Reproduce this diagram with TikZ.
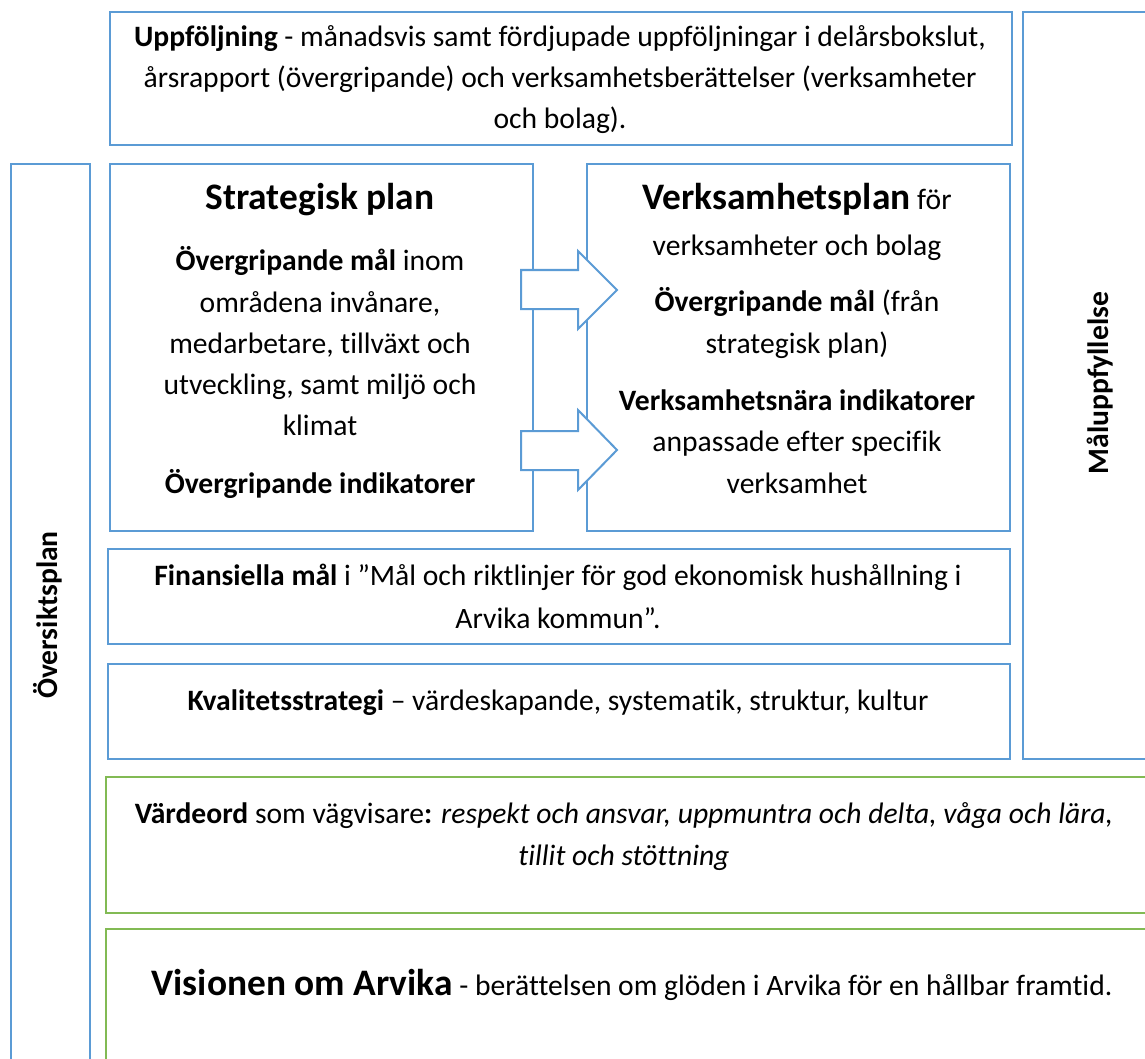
\documentclass[tikz,border=0pt]{standalone}
\usepackage{fontspec}
\setmainfont{Carlito}[Ligatures=NoCommon]
\definecolor{bl}{RGB}{91,155,213}
\definecolor{gr}{RGB}{130,186,84}
\begin{document}
\begin{tikzpicture}[x=1pt,y=-1pt,
  bbox/.style={draw=bl,line width=2pt,inner sep=0pt,anchor=north west},
  gbox/.style={draw=gr,line width=2.2pt,inner sep=0pt,anchor=north west},
  body/.style={font=\fontsize{29.6}{41}\selectfont,anchor=base,inner sep=0pt},
  side/.style={font=\fontsize{29.6}{41}\selectfont\bfseries,inner sep=0pt,rotate=90},
  blockarrow/.style={draw=bl,line width=2pt,fill=white,line join=miter}]
\newcommand{\ttl}[1]{{\fontsize{37.4}{44}\selectfont\bfseries #1}}
\useasboundingbox (0,0) rectangle (1145,1059);
% boxes
\node[bbox,minimum width=902,minimum height=133] (upp) at (109,11) {};
\node[bbox,minimum width=200,minimum height=747] (mal) at (1022,11) {};
\node[bbox,minimum width=79,minimum height=950] (overs) at (10,163) {};
\node[bbox,minimum width=423,minimum height=367] (strat) at (109,163) {};
\node[bbox,minimum width=423,minimum height=367] (verk) at (586,163) {};
\node[bbox,minimum width=902,minimum height=95] (fin) at (107,548) {};
\node[bbox,minimum width=902,minimum height=95] (kval) at (107,663) {};
\node[gbox,minimum width=1100,minimum height=136] (vard) at (105,776) {};
\node[gbox,minimum width=1100,minimum height=200] (vis) at (105,928) {};
% block arrows
\draw[blockarrow] (521,270) -- (578,270) -- (578,251) -- (617,290) -- (578,329) -- (578,309) -- (521,309) -- cycle;
\draw[blockarrow] (521,431) -- (578,431) -- (578,410) -- (617,450) -- (578,490) -- (578,470) -- (521,470) -- cycle;
% Uppföljning
\node[body] (u1) at (560,47) {\textbf{Uppföljning} - månadsvis samt fördjupade uppföljningar i delårsbokslut,};
\node[body] (u2) at (560,88) {årsrapport (övergripande) och verksamhetsberättelser (verksamheter};
\node[body] (u3) at (560,129) {och bolag).};
% Strategisk plan
\node[body] (s0) at (320,210) {\ttl{Strategisk plan}};
\node[body] (s1) at (320,271) {\textbf{Övergripande mål} inom};
\node[body] (s2) at (320,312) {områdena invånare,};
\node[body] (s3) at (320,353) {medarbetare, tillväxt och};
\node[body] (s4) at (320,394) {utveckling, samt miljö och};
\node[body] (s5) at (320,435) {klimat};
\node[body] (s6) at (320,493) {\textbf{Övergripande indikatorer}};
% Verksamhetsplan
\node[body] (v0) at (797,210) {\ttl{Verksamhetsplan} för};
\node[body] (v1) at (797,255) {verksamheter och bolag};
\node[body] (v2) at (797,311) {\textbf{Övergripande mål} (från};
\node[body] (v3) at (797,353) {strategisk plan)};
\node[body] (v4) at (797,410) {\textbf{Verksamhetsnära indikatorer}};
\node[body] (v5) at (797,451) {anpassade efter specifik};
\node[body] (v6) at (797,493) {verksamhet};
% Finansiella
\node[body] (f1) at (558,585) {\textbf{Finansiella mål} i ”Mål och riktlinjer för god ekonomisk hushållning i};
\node[body] (f2) at (558,628) {Arvika kommun”.};
% Kvalitet
\node[body] (k1) at (558,710) {\textbf{Kvalitetsstrategi} – värdeskapande, systematik, struktur, kultur};
% Värdeord
\node[body] (w1) at (624,823) {\textbf{Värdeord} som vägvisare\textbf{:} \textit{respekt och ansvar, uppmuntra och delta, våga och lära,}};
\node[body] (w2) at (624,865) {\textit{tillit och stöttning}};
% Visionen
\node[body] (vi) at (632,995) {\ttl{Visionen om Arvika} - berättelsen om glöden i Arvika för en hållbar framtid.};
% side labels
\node[side] (lo) at (48,615) {Översiktsplan};
\node[side] (lm) at (1100,383) {Måluppfyllelse};
\end{tikzpicture}
\end{document}
